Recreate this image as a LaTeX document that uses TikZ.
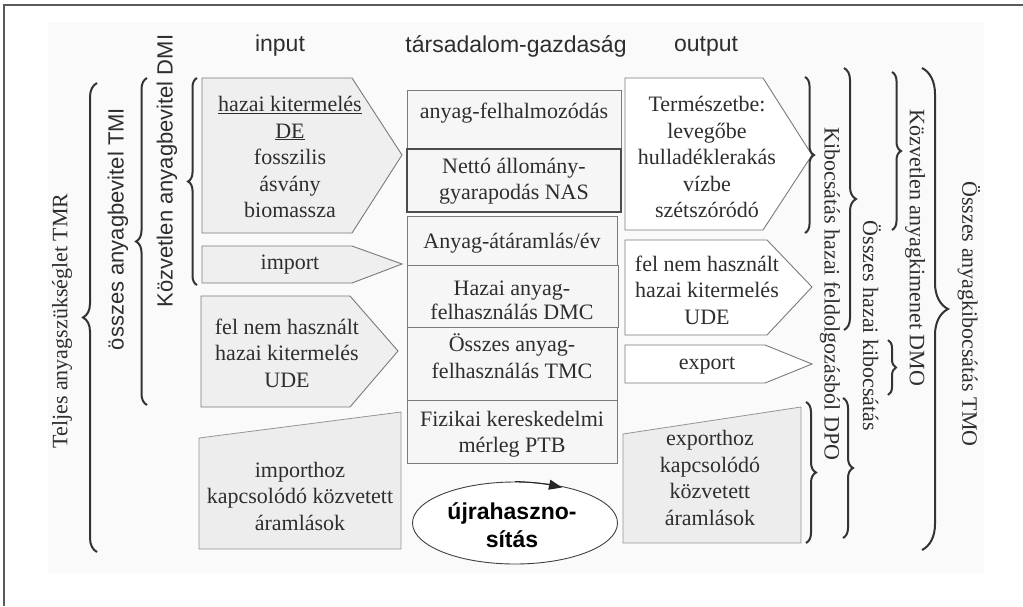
\documentclass[tikz,border=0pt]{standalone}
\usepackage{fontspec}
\setmainfont{Liberation Serif}
\setsansfont{Liberation Sans}
\usetikzlibrary{shapes.geometric,decorations.pathreplacing,arrows.meta}
\definecolor{txtc}{HTML}{2E2E2E}
\definecolor{edgec}{HTML}{7A7A7A}
\definecolor{inpfill}{HTML}{EFEFEF}
\definecolor{midfill}{HTML}{F6F6F6}
\definecolor{trapfill}{HTML}{EDEDED}
\definecolor{bgfill}{HTML}{FAFAFA}
\definecolor{bracec}{HTML}{333333}
\definecolor{framec}{HTML}{5A5A5A}
\begin{document}
\begin{tikzpicture}[x=1pt,y=-1pt,
  serif/.style={text=txtc, font=\fontsize{22}{26.5}\selectfont, align=center, inner sep=0pt},
  sans/.style={text=txtc, font=\sffamily\fontsize{23}{27}\selectfont, align=center, inner sep=0pt},
  vsans/.style={text=txtc, font=\sffamily\fontsize{22}{26}\selectfont, inner sep=0pt},
  inshape/.style={draw=edgec, fill=inpfill, line width=0.9pt, line join=miter},
  outshape/.style={draw=edgec, fill=white, line width=0.9pt, line join=miter},
  trapshape/.style={draw=edgec!80, fill=trapfill, line width=0.8pt},
  midbox/.style={draw=edgec, fill=midfill, line width=0.9pt},
  brc/.style={draw=bracec, line width=2pt, decorate, decoration={brace, amplitude=#1}}
]
\useasboundingbox (0,0) rectangle (1023,606);
% faint background and frame
\fill[bgfill] (48,22) rectangle (984,573);
\draw[framec, line width=2pt] (4,606) -- (4,5) -- (1023,5);

% headers
\node[sans] (hin) at (280,46) {input};
\node[sans] (hsoc) at (516,46) {társadalom-gazdaság};
\node[sans] (hout) at (706,46) {output};

% input shapes
\draw[inshape] (202,78) -- (352,78) -- (402,155) -- (352,233) -- (202,233) -- cycle;
\draw[inshape] (202,246) -- (352,246) -- (402,264) -- (352,283) -- (202,283) -- cycle;
\draw[inshape] (201,296) -- (350,296) -- (398,351) -- (350,407) -- (201,407) -- cycle;
\draw[trapshape] (199,438) -- (401,412) -- (401,549) -- (199,549) -- cycle;

\node[serif] (de) at (290,157) {\underline{hazai kitermelés}\\\underline{DE}\\fosszilis\\ásvány\\biomassza};
\node[serif] (imp) at (290,265) {import};
\node[serif] (udein) at (287,353) {fel nem használt\\hazai kitermelés\\UDE};
\node[serif] (impind) at (300,496) {importhoz\\kapcsolódó közvetett\\áramlások};

% middle boxes
\draw[midbox] (407,90) rectangle (621,149);
\draw[midbox, draw=black!70, line width=1.2pt] (407,149) rectangle (621,212);
\draw[midbox] (407,216) rectangle (617,265);
\draw[midbox] (407,265) rectangle (618,327);
\draw[midbox] (407,327) rectangle (617,400);
\draw[midbox] (407,400) rectangle (617,463);

\node[serif] (acc) at (514,113) {anyag-felhalmozódás};
\node[serif] (nas) at (514,181) {Nettó állomány-\\gyarapodás NAS};
\node[serif] (thr) at (512,243) {Anyag-átáramlás/év};
\node[serif, font=\fontsize{22}{24}\selectfont] (dmc) at (512,300) {Hazai anyag-\\felhasználás DMC};
\node[serif] (tmc) at (512,356) {Összes anyag-\\felhasználás TMC};
\node[serif] (ptb) at (512,434) {Fizikai kereskedelmi\\mérleg PTB};

% recycling ellipse
\node[ellipse, draw=black!75, line width=0.9pt, fill=white, minimum width=205pt, minimum height=82pt, inner sep=0pt] (ell) at (515,523) {};
\node[text=black, font=\sffamily\bfseries\fontsize{23}{28}\selectfont, align=center, inner sep=0pt] (recy) at (512,525) {újrahaszno-\\sítás};
\coordinate (arrend) at (562,487.5);
\draw[black!85, line width=1pt, -{Triangle[length=13pt,width=10pt]}] (ell.north) .. controls (532,482) and (546,484) .. (arrend);

% output shapes
\draw[outshape] (625,78) -- (763,78) -- (812,155) -- (763,230) -- (625,230) -- cycle;
\draw[outshape] (625,240) -- (767,240) -- (812,287) -- (767,335) -- (625,335) -- cycle;
\draw[outshape] (625,345) -- (765,345) -- (812,364) -- (765,383) -- (625,383) -- cycle;
\draw[trapshape] (623,434) -- (801,407) -- (801,543) -- (623,543) -- cycle;

\node[serif] (nat) at (707,157) {Természetbe:\\levegőbe\\hulladéklerakás\\vízbe\\szétszóródó};
\node[serif] (udeout) at (707,290) {fel nem használt\\hazai kitermelés\\UDE};
\node[serif] (exp) at (707,366) {export};
\node[serif] (expind) at (710,478) {exporthoz\\kapcsolódó\\közvetett\\áramlások};

% left braces
\draw[brc=14pt] (97,552) -- (97,83);
\draw[brc=11pt] (147,405) -- (147,78);
\draw[brc=9pt] (197,285) -- (197,78);
\node[serif, rotate=90] (tmr) at (62,321) {Teljes anyagszükséglet TMR};
\node[vsans, rotate=90] (tmi) at (118,229) {összes anyagbevitel TMI};
\node[vsans, rotate=90] (dmi) at (167,171) {Közvetlen anyagbevitel DMI};

% right braces
\draw[brc=9pt] (805,77) -- (805,233);
\draw[brc=10pt] (806,402) -- (806,543);
\draw[brc=12pt] (844,68) -- (844,330);
\draw[brc=10pt] (843,398) -- (843,538);
\draw[brc=9pt] (892,72) -- (892,230);
\draw[brc=8pt] (888,340) -- (888,395);
\draw[brc=26pt] (922,68) -- (922,550);
\node[serif, rotate=-90] (dpo) at (830,294) {Kibocsátás hazai feldolgozásból DPO};
\node[serif, rotate=-90] (tdo) at (872,326) {Összes hazai kibocsátás};
\node[serif, rotate=-90] (dmo) at (915,248) {Közvetlen anyagkimenet DMO};
\node[serif, rotate=-90] (tmo) at (969,314) {Összes anyagkibocsátás TMO};
\end{tikzpicture}
\end{document}
